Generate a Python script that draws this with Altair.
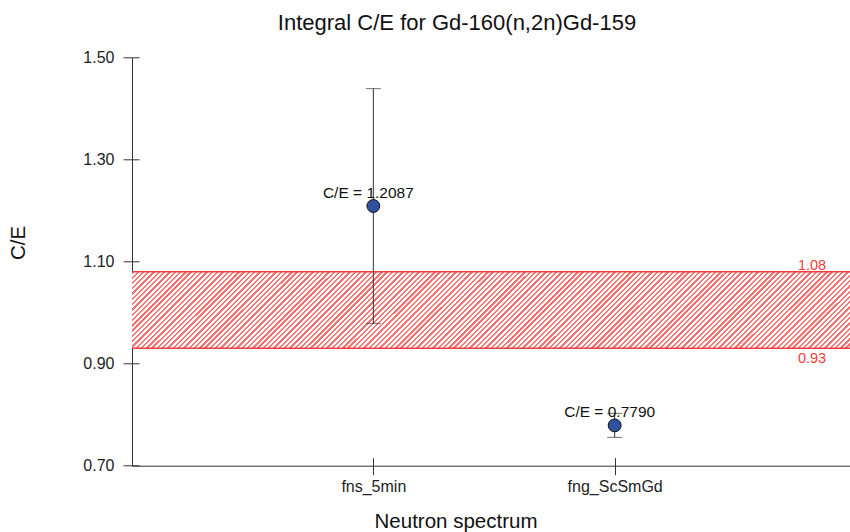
import altair as alt
import pandas as pd

# ---- data ----
categories = ["fns_5min", "fng_ScSmGd"]
ce_values = [1.2087, 0.7790]
ce_errors = [0.2299, 0.0235]
ce_labels = ["C/E = 1.2087", "C/E = 0.7790"]
band_low = 0.93
band_high = 1.08
y_ticks = [0.70, 0.90, 1.10, 1.30, 1.50]
title_text = "Integral C/E for Gd-160(n,2n)Gd-159"

FONT = "Liberation Sans"
RED = "#f03c3c"
DARK = "#333333"

pts = pd.DataFrame({"spectrum": categories, "ce": ce_values,
                    "err": ce_errors, "label": ce_labels})
pts["lo"] = pts["ce"] - pts["err"]
pts["hi"] = pts["ce"] + pts["err"]
band = pd.DataFrame({"lo": [band_low], "hi": [band_high]})
band_top = pd.DataFrame({"v": [band_high], "txt": [f"{band_high:.2f}"]})
band_bot = pd.DataFrame({"v": [band_low], "txt": [f"{band_low:.2f}"]})
band_lines = pd.DataFrame({"v": [band_low, band_high]})

# ---- hatch fill (style only): diagonal stripes as a hard-stop gradient ----
n_stripes = 150
stripe_frac = 0.45
STRIPE = "#f47474"
stops = []
for k in range(n_stripes):
    a = k / n_stripes
    b = (k + stripe_frac) / n_stripes
    c = (k + 1) / n_stripes
    stops += [alt.GradientStop(offset=a, color=STRIPE),
              alt.GradientStop(offset=b, color=STRIPE),
              alt.GradientStop(offset=b, color="#ffffff"),
              alt.GradientStop(offset=c, color="#ffffff")]
hatch_fill = alt.LinearGradient(gradient="linear", stops=stops,
                                x1=0, y1=0, x2=1.0942, y2=0.1168)

yscale = alt.Scale(domain=[0.7, 1.5], nice=False, zero=False)
xscale = alt.Scale(type="point", domain=categories, range=[0, 724], padding=1)

y_main = alt.Axis(values=y_ticks, format=".2f", grid=False, tickSize=9,
                  domainColor=DARK, tickColor=DARK, labelFontSize=16,
                  labelColor="#222222", labelFont=FONT, labelPadding=9,
                  title="C/E", titleFontSize=20.5, titleFont=FONT,
                  titleFontWeight="normal", titleColor="#111111",
                  titleAngle=270, titleX=-108, titleY=185.2,
                  titleAlign="center", titleBaseline="alphabetic")
x_main = alt.Axis(grid=False, tickSize=9, labelAngle=0, domainColor=DARK,
                  tickColor=DARK, labelFontSize=16, labelFont=FONT,
                  labelColor="#222222", labelPadding=4,
                  title="Neutron spectrum", titleFontSize=20.5, titleFont=FONT,
                  titleFontWeight="normal", titleColor="#111111",
                  titleX=323.5, titleY=62, titleAlign="center",
                  titleBaseline="alphabetic")
y_inner = alt.Axis(orient="left", offset=-7, tickSize=7, labels=False,
                   domain=False, grid=False, title="", values=y_ticks,
                   tickColor=DARK)
x_inner = alt.Axis(orient="bottom", offset=-8, tickSize=8, labels=False,
                   domain=False, grid=False, title="", tickColor=DARK)

hatch = alt.Chart(band).mark_rect(fill=hatch_fill).encode(
    y=alt.Y("lo:Q", scale=yscale, axis=None), y2="hi:Q")

edges = alt.Chart(band_lines).mark_rule(color=RED, strokeWidth=1.5).encode(
    y=alt.Y("v:Q", scale=yscale, axis=None))

bars = alt.Chart(pts).mark_rule(color=DARK, strokeWidth=1).encode(
    x=alt.X("spectrum:N", scale=xscale, axis=x_main, sort=categories),
    y=alt.Y("lo:Q", scale=yscale, axis=y_main), y2="hi:Q")

cap_lo = alt.Chart(pts).mark_tick(color=DARK, size=15, thickness=1,
                                  orient="horizontal").encode(
    x=alt.X("spectrum:N", scale=xscale, axis=None, sort=categories),
    y=alt.Y("lo:Q", scale=yscale, axis=None))
cap_hi = alt.Chart(pts).mark_tick(color=DARK, size=15, thickness=1,
                                  orient="horizontal").encode(
    x=alt.X("spectrum:N", scale=xscale, axis=None, sort=categories),
    y=alt.Y("hi:Q", scale=yscale, axis=None))

points = alt.Chart(pts).mark_circle(size=165, color="#3050a0", stroke="#111111",
                                    strokeWidth=1, opacity=1).encode(
    x=alt.X("spectrum:N", scale=xscale, axis=x_inner, sort=categories),
    y=alt.Y("ce:Q", scale=yscale, axis=y_inner))

labels = alt.Chart(pts).mark_text(dx=-5, dy=-8, baseline="alphabetic",
                                  fontSize=15.5, font=FONT,
                                  color="#111111").encode(
    x=alt.X("spectrum:N", scale=xscale, axis=None, sort=categories),
    y=alt.Y("ce:Q", scale=yscale, axis=None),
    text="label:N")

top_label = alt.Chart(band_top).mark_text(baseline="alphabetic", dy=-2,
                                          fontSize=14.5, font=FONT,
                                          color=RED).encode(
    x=alt.value(680), y=alt.Y("v:Q", scale=yscale, axis=None), text="txt:N")
bot_label = alt.Chart(band_bot).mark_text(baseline="top", dy=4,
                                          fontSize=14.5, font=FONT,
                                          color=RED).encode(
    x=alt.value(680), y=alt.Y("v:Q", scale=yscale, axis=None), text="txt:N")

chart = alt.layer(
    hatch, edges, bars, cap_lo, cap_hi, points, labels, top_label, bot_label
).resolve_axis(x="independent", y="independent").properties(
    width=718, height=408.4,
    title=alt.TitleParams(title_text, fontSize=22, font=FONT,
                          fontWeight="normal", color="#111111",
                          anchor="middle", dx=-34, dy=22.5, offset=20,
                          baseline="alphabetic"),
    autosize=alt.AutoSizeParams(type="none"),
    padding={"left": 132, "top": 57.3, "right": 0, "bottom": 66.3},
).configure(background="white").configure_view(stroke="transparent",
                                                strokeWidth=0)

chart.save("out.html", embed_options={"renderer": "svg", "actions": False})
